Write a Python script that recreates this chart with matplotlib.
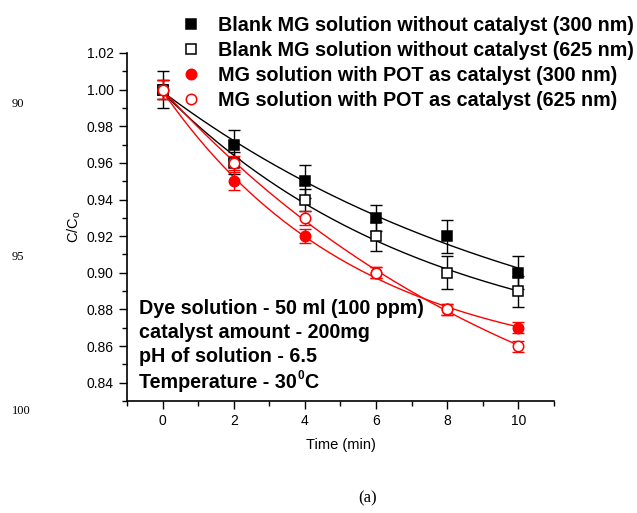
import numpy as np
import matplotlib
matplotlib.use("Agg")
import matplotlib.pyplot as plt
from matplotlib.ticker import MultipleLocator

plt.rcParams['font.family'] = ['Liberation Sans', 'DejaVu Sans']

# ---- data ----
time = [0, 2, 4, 6, 8, 10]
blank_300 = [1.00, 0.97, 0.95, 0.93, 0.92, 0.90]
blank_300_err = [0.010, 0.008, 0.009, 0.007, 0.009, 0.009]
blank_625 = [1.00, 0.96, 0.94, 0.92, 0.90, 0.89]
blank_625_err = [0.005, 0.006, 0.006, 0.008, 0.009, 0.0085]
pot_300 = [1.00, 0.95, 0.92, 0.90, 0.88, 0.87]
pot_300_err = [0.005, 0.005, 0.004, 0.003, 0.003, 0.003]
pot_625 = [1.00, 0.96, 0.93, 0.90, 0.88, 0.86]
pot_625_err = [0.005, 0.004, 0.004, 0.003, 0.003, 0.003]

labels = ["Blank MG solution without catalyst (300 nm)",
          "Blank MG solution without catalyst (625 nm)",
          "MG solution with POT as catalyst (300 nm)",
          "MG solution with POT as catalyst (625 nm)"]
notes = ["Dye solution - 50 ml (100 ppm)",
         "catalyst amount - 200mg",
         "pH of solution - 6.5"]
temp_parts = ["Temperature - 30", "0", "C"]


def exp_fit(t, y):
    t = np.asarray(t, float)
    y = np.asarray(y, float)
    best = None
    for k in np.linspace(0.005, 1.0, 400):
        A = np.column_stack([np.ones_like(t), np.exp(-k * t)])
        coef, res, *_ = np.linalg.lstsq(A, y, rcond=None)
        r = np.sum((A @ coef - y) ** 2)
        if best is None or r < best[0]:
            best = (r, k, coef)
    _, k, coef = best
    tt = np.linspace(t.min(), t.max(), 200)
    return tt, coef[0] + coef[1] * np.exp(-k * tt)


fig = plt.figure(figsize=(6.37, 5.13), dpi=100)
ax = fig.add_axes([127 / 637, 1 - 401 / 513, (554 - 127) / 637, (401 - 53) / 513])

series = [
    (blank_300, blank_300_err, 'k', 's', 'k'),
    (blank_625, blank_625_err, 'k', 's', 'white'),
    (pot_300, pot_300_err, 'red', 'o', 'red'),
    (pot_625, pot_625_err, 'red', 'o', 'white'),
]
handles = []
for (y, e, c, m, fc), lab in zip(series, labels):
    tt, yy = exp_fit(time, y)
    ax.plot(tt, yy, color=c, lw=1.0, zorder=2)
    ax.errorbar(time, y, yerr=e, fmt='none', ecolor=c, elinewidth=1.0,
                capsize=4, capthick=1.0, zorder=3)
    ms = 6.5 if m == 's' else 7.5
    h, = ax.plot(time, y, ls='none', marker=m, ms=ms, mfc=fc, mec=c,
                 mew=1.1, zorder=4, label=lab)
    handles.append(h)

ax.set_xlim(-1, 11)
ax.set_ylim(0.83, 1.02)
ax.xaxis.set_minor_locator(MultipleLocator(1))
ax.yaxis.set_minor_locator(MultipleLocator(0.01))
yt = np.arange(0.84, 1.0201, 0.02)
ax.set_yticks(yt)
ax.set_yticklabels([f"{v:.2f}" for v in yt])
ax.set_xticks([0, 2, 4, 6, 8, 10])
ax.spines['top'].set_visible(False)
ax.spines['right'].set_visible(False)
ax.spines['left'].set_linewidth(1.2)
ax.spines['bottom'].set_linewidth(1.2)
ax.tick_params(which='major', direction='out', length=6, width=1.0, labelsize=10)
ax.tick_params(which='minor', direction='out', length=3.5, width=1.0)
ax.set_xlabel("Time (min)", fontsize=10.5, labelpad=7)
ax.set_ylabel("C/C$_\\mathregular{o}$", fontsize=10.5, labelpad=3)

leg = fig.legend(handles=handles, loc='upper left', bbox_to_anchor=(181 / 637, 1 - 16 / 513),
                 frameon=False, prop={'weight': 'bold', 'size': 14.2},
                 handletextpad=0.9, labelspacing=0.3, handlelength=1.0,
                 borderaxespad=0, borderpad=0)

ys = [308, 333, 357]
for txt, yp in zip(notes, ys):
    fig.text(139 / 637, 1 - yp / 513, txt, fontsize=14.2, fontweight='bold',
             va='center', ha='left')

# Temperature line with a small superscript
renderer = fig.canvas.get_renderer()
t1 = fig.text(139 / 637, 1 - 383 / 513, temp_parts[0], fontsize=14.2,
              fontweight='bold', va='center', ha='left')
bb = t1.get_window_extent(renderer)
x1 = bb.x1 / fig.bbox.width
t2 = fig.text(x1 + 0.5 / 637, 1 - 376 / 513, temp_parts[1], fontsize=8.5,
              fontweight='bold', va='center', ha='left')
bb2 = t2.get_window_extent(renderer)
fig.text(bb2.x1 / fig.bbox.width + 0.5 / 637, 1 - 383 / 513, temp_parts[2],
         fontsize=14.2, fontweight='bold', va='center', ha='left')

for txt, yp in zip(["90", "95", "100"], [104, 257, 411]):
    fig.text(12 / 637, 1 - yp / 513, txt, fontsize=9,
             family=['Liberation Serif', 'DejaVu Serif'], va='center', ha='left')
fig.text(368 / 637, 1 - 498 / 513, "(a)", fontsize=12,
         family=['Liberation Serif', 'DejaVu Serif'], va='center', ha='center')

fig.savefig("out.png", dpi=100)
